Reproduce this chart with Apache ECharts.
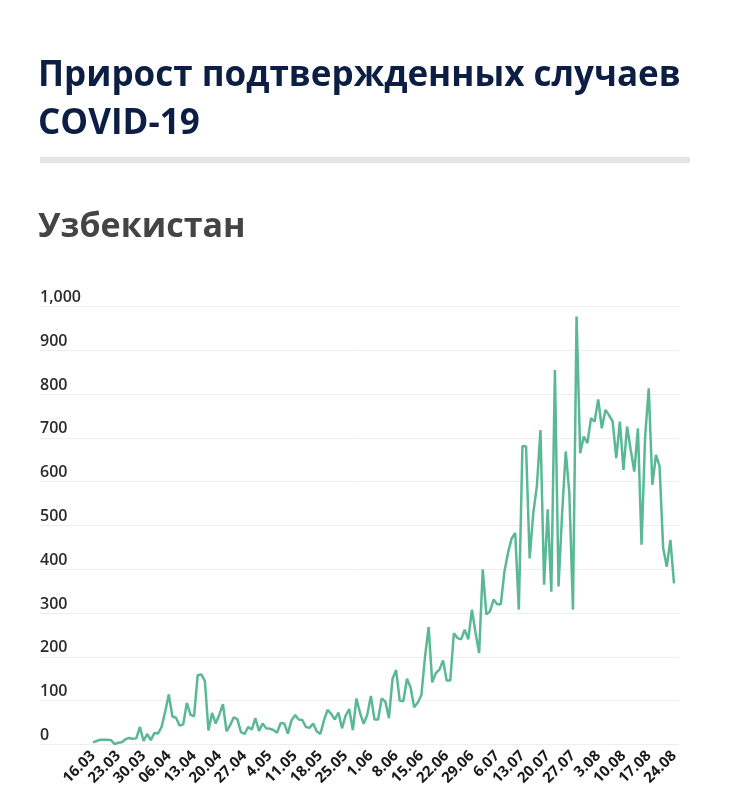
<!DOCTYPE html>
<html>
<head>
<meta charset="utf-8">
<script src="https://cdn.jsdelivr.net/npm/echarts@6/dist/echarts.min.js"></script>
<style>
  html, body { margin: 0; padding: 0; background: #fff; }
  #chart { width: 730px; height: 811px; }
</style>
</head>
<body>
<div id="chart"></div>
<script>
// daily new confirmed cases, 16.03 - 24.08
var cases = [
  5, 8, 11, 11, 11, 10, 1, 4, 5, 12, 15, 13, 14, 40, 8, 24, 10, 26, 25, 40,
  75, 114, 64, 61, 43, 46, 95, 68, 64, 158, 160, 145, 32, 72, 48, 68, 92, 30, 44, 62,
  58, 28, 24, 40, 34, 60, 31, 48, 37, 36, 33, 27, 49, 48, 25, 55, 67, 57, 56, 40,
  38, 48, 30, 24, 55, 79, 70, 57, 73, 37, 66, 81, 33, 105, 72, 47, 68, 111, 57, 57,
  105, 98, 60, 150, 170, 100, 99, 150, 130, 85, 96, 113, 200, 268, 142, 163, 171, 192, 146, 146,
  254, 243, 240, 262, 240, 308, 255, 209, 400, 297, 304, 331, 320, 320, 394, 438, 470, 483, 308, 681,
  681, 425, 528, 590, 718, 365, 537, 349, 855, 361, 528, 669, 574, 308, 977, 665, 703, 688, 745, 737,
  788, 722, 764, 752, 737, 654, 737, 627, 726, 673, 623, 722, 456, 703, 813, 593, 661, 635, 448, 406,
  467, 368
];

// one label every 7 days
var tickLabels = ['16.03', '23.03', '30.03', '06.04', '13.04', '20.04', '27.04', '4.05',
  '11.05', '18.05', '25.05', '1.06', '8.06', '15.06', '22.06', '29.06', '6.07', '13.07',
  '20.07', '27.07', '3.08', '10.08', '17.08', '24.08'];

var days = [];
var start = new Date(2020, 2, 16);
for (var i = 0; i < cases.length; i++) {
  var d = new Date(start.getTime());
  d.setDate(start.getDate() + i);
  days.push(d.getDate() + '.' + (d.getMonth() + 1));
}

var chart = echarts.init(document.getElementById('chart'));
var font = "'Open Sans', 'Noto Sans', sans-serif";

var option = {
  animation: false,
  backgroundColor: '#fff',
  title: [
    {
      text: 'Прирост подтвержденных случаев\nCOVID-19',
      left: 38,
      top: 52,
      padding: 0,
      textStyle: {
        fontFamily: font, fontSize: 35, fontWeight: 'bold',
        color: '#0c1e44', lineHeight: 48
      }
    },
    {
      text: 'Узбекистан',
      left: 38,
      top: 210,
      padding: 0,
      textStyle: {
        fontFamily: font, fontSize: 34, fontWeight: 'bold', color: '#444'
      }
    }
  ],
  graphic: [
    {
      type: 'rect',
      shape: { x: 40, y: 157, width: 650, height: 6 },
      style: { fill: '#e4e4e4' }
    }
  ],
  grid: [
    { left: 40, right: 51, top: 306.5, bottom: 66.5 },
    { left: 93, right: 56, top: 306.5, bottom: 66.5 }
  ],
  xAxis: [
    { gridIndex: 0, type: 'value', show: false, min: 0, max: 1 },
    {
      gridIndex: 1,
      type: 'category',
      data: days,
      boundaryGap: false,
      axisLine: { show: false },
      axisTick: { show: false },
      axisLabel: {
        interval: 6,
        rotate: 45,
        margin: 9,
        fontFamily: font,
        fontSize: 15,
        fontWeight: 'bold',
        color: '#1a1a1a',
        formatter: function (value, index) {
          return tickLabels[index / 7] || '';
        }
      }
    }
  ],
  yAxis: [
    {
      gridIndex: 0,
      type: 'value',
      min: 0,
      max: 1000,
      interval: 100,
      axisLine: { show: false },
      axisTick: { show: false },
      splitLine: { lineStyle: { color: '#eeeeee', width: 1 } },
      axisLabel: {
        inside: true,
        margin: 0,
        align: 'left',
        verticalAlign: 'bottom',
        padding: [0, 0, 1, 0],
        fontFamily: font,
        fontSize: 16,
        fontWeight: 600,
        color: '#2a2a2a',
        formatter: function (v) {
          return v.toLocaleString('en-US');
        }
      }
    },
    { gridIndex: 1, type: 'value', min: 0, max: 1000, show: false }
  ],
  series: [
    {
      type: 'line',
      xAxisIndex: 1,
      yAxisIndex: 1,
      data: cases,
      showSymbol: false,
      lineStyle: { color: '#5ab994', width: 2.5 },
      itemStyle: { color: '#5ab994' }
    }
  ]
};

chart.setOption(option);
</script>
</body>
</html>
